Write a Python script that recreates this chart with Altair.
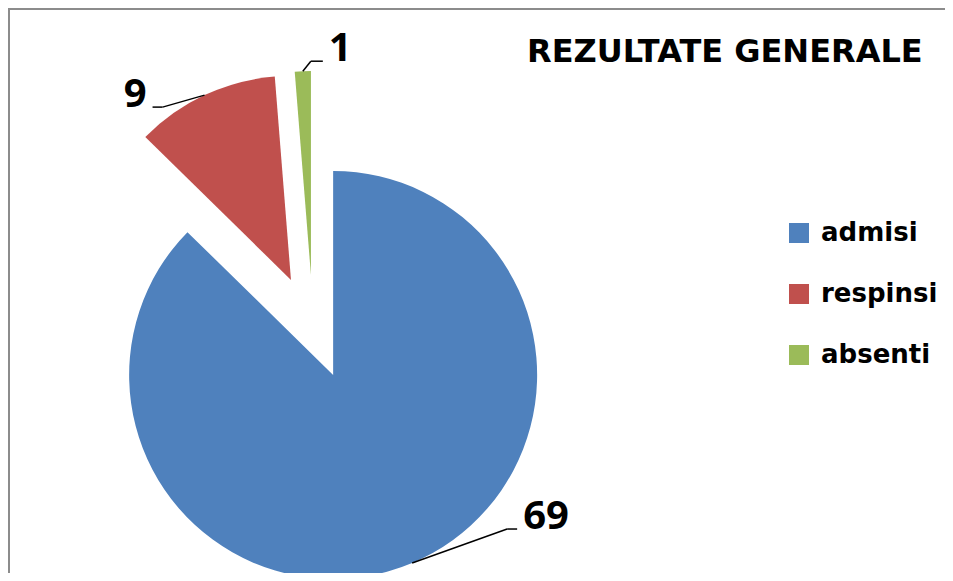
import altair as alt
import pandas as pd

# ---- data ----
categories = ["admisi", "respinsi", "absenti"]
values = [69, 9, 1]
colors = ["#4F81BD", "#C0504D", "#9BBB59"]
title_text = ["REZULTATE GENERALE"]

df = pd.DataFrame({"cat": categories, "value": values, "idx": list(range(len(categories)))})

# ---- layout (pixels, view coordinates) ----
W, H = 937, 565
CX, CY = 305, 319      # pie centre before explosion
R = 204                # pie radius
EXPLODE = 52           # explosion distance of every slice
# leader line layout per slice: elbow dx, elbow dy (from arc edge), horizontal run
LEADER = {"admisi": (95, -34, 10), "respinsi": (-42, 12, -10), "absenti": (8, -10, 12)}


def pick(i):
    expr = "0"
    for c, v in LEADER.items():
        expr = f"(datum.cat === '{c}' ? {v[i]} : {expr})"
    return expr


base = (
    alt.Chart(df)
    .transform_joinaggregate(total="sum(value)")
    .transform_window(cum="sum(value)", sort=[alt.SortField("idx")], frame=[None, 0])
    .transform_calculate(a0="(datum.cum - datum.value) / datum.total * 2 * PI")
    .transform_calculate(a1="datum.cum / datum.total * 2 * PI")
    .transform_calculate(mid="(datum.a0 + datum.a1) / 2")
    .transform_calculate(cx=f"{CX} + {EXPLODE} * sin(datum.mid)")
    .transform_calculate(cy=f"{CY} - {EXPLODE} * cos(datum.mid)")
    .transform_calculate(sx=f"datum.cx + {R} * sin(datum.mid)")
    .transform_calculate(sy=f"datum.cy - {R} * cos(datum.mid)")
    .transform_calculate(ex="datum.sx + " + pick(0))
    .transform_calculate(ey="datum.sy + " + pick(1))
    .transform_calculate(hx="datum.ex + " + pick(2))
    .transform_calculate(tx="datum.hx + (datum.hx >= datum.ex ? 6 : -6)")
)

arcs = base.mark_arc(radius=R).encode(
    x=alt.X("cx:Q", scale=None, axis=None),
    y=alt.Y("cy:Q", scale=None, axis=None),
    theta=alt.Theta("a0:Q", scale=None),
    theta2="a1:Q",
    color=alt.Color(
        "cat:N",
        scale=alt.Scale(domain=categories, range=colors),
        legend=alt.Legend(
            title=None,
            orient="none",
            legendX=778,
            legendY=212,
            symbolType="square",
            symbolSize=400,
            symbolStrokeWidth=0,
            labelFont="DejaVu Sans",
            labelFontWeight="bold",
            labelFontSize=26,
            labelColor="black",
            labelOffset=9,
            rowPadding=35,
            labelLimit=400,
            padding=0,
        ),
    ),
)

lead1 = base.mark_rule(color="black", strokeWidth=1.5).encode(
    x=alt.X("sx:Q", scale=None, axis=None),
    y=alt.Y("sy:Q", scale=None, axis=None),
    x2="ex:Q",
    y2="ey:Q",
)
lead2 = base.mark_rule(color="black", strokeWidth=1.5).encode(
    x=alt.X("ex:Q", scale=None, axis=None),
    y=alt.Y("ey:Q", scale=None, axis=None),
    x2="hx:Q",
    y2="ey:Q",
)

label_style = dict(font="Open Sans", fontWeight="bold", fontSize=40, color="black", baseline="alphabetic")
labels_r = base.transform_filter("datum.hx >= datum.ex").mark_text(align="left", **label_style).encode(
    x=alt.X("tx:Q", scale=None, axis=None),
    y=alt.Y("ey:Q", scale=None, axis=None),
    text="value:Q",
)
labels_l = base.transform_filter("datum.hx < datum.ex").mark_text(align="right", **label_style).encode(
    x=alt.X("tx:Q", scale=None, axis=None),
    y=alt.Y("ey:Q", scale=None, axis=None),
    text="value:Q",
)

title = alt.Chart(pd.DataFrame({"t": title_text})).mark_text(
    align="left", baseline="alphabetic", font="DejaVu Sans", fontWeight="bold", fontSize=32, color="black"
).encode(x=alt.value(519), y=alt.value(54), text="t:N")

# chart frame: only the top and left edges are inside the window
frame_top = alt.Chart(pd.DataFrame({"k": [0]})).mark_rule(color="#8c8c8c", strokeWidth=2).encode(
    x=alt.value(0), x2=alt.value(W), y=alt.value(1)
)
frame_left = alt.Chart(pd.DataFrame({"k": [0]})).mark_rule(color="#8c8c8c", strokeWidth=2).encode(
    x=alt.value(1), y=alt.value(0), y2=alt.value(H)
)

chart = (
    alt.layer(frame_top, frame_left, arcs, lead1, lead2, labels_r, labels_l, title)
    .properties(width=W, height=H, padding=0, autosize="none")
    .configure_view(stroke=None)
)

chart.save("out.html", embed_options={"renderer": "svg", "actions": False})
